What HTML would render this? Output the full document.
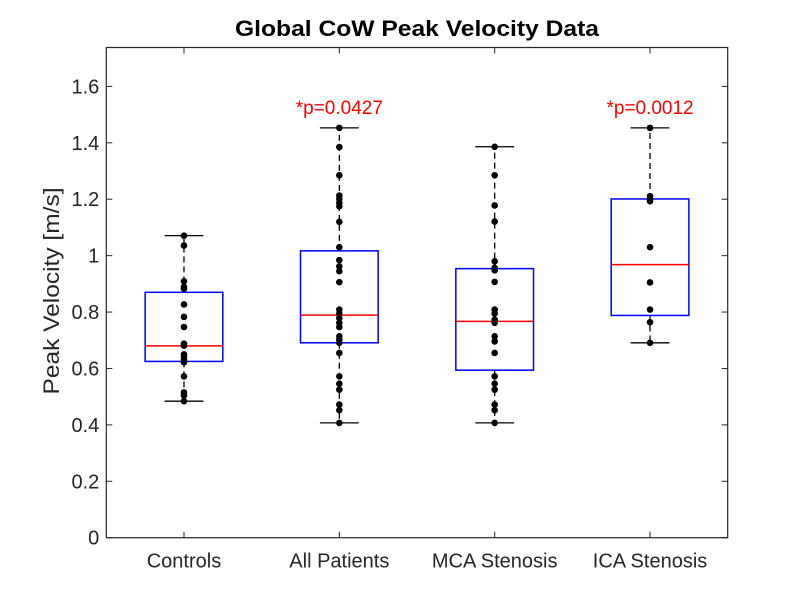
<!DOCTYPE html>
<html><head><meta charset="utf-8"><style>
html,body{margin:0;padding:0;background:#fff}
svg{display:block;font-family:"Liberation Sans",Arial,sans-serif}
</style></head><body>
<svg id="chart" width="802" height="604" viewBox="0 0 802 604">
<rect width="802" height="604" fill="#fff"/>
<text x="417" y="36" text-anchor="middle" font-size="22" font-weight="bold" fill="#000" textLength="364" lengthAdjust="spacingAndGlyphs">Global CoW Peak Velocity Data</text>
<g id="plot"></g>
</svg>
<script>
const categories = ["Controls","All Patients","MCA Stenosis","ICA Stenosis"];
const q1 = [0.625,0.691,0.594,0.788];
const q3 = [0.870,1.017,0.954,1.201];
const medians = [0.680,0.789,0.767,0.968];
const whiskerLow = [0.484,0.407,0.407,0.691];
const whiskerHigh = [1.071,1.453,1.386,1.453];
const pointsControls = [1.071,1.036,0.909,0.889,0.883,0.827,0.783,0.747,0.688,0.681,0.650,0.641,0.631,0.622,0.572,0.515,0.504,0.484];
const pointsAll = [1.453,1.385,1.285,1.213,1.201,1.187,1.175,1.120,1.030,0.984,0.962,0.945,0.906,0.809,0.795,0.779,0.762,0.747,0.714,0.702,0.691,0.655,0.572,0.546,0.525,0.472,0.452,0.407];
const pointsMCA = [1.386,1.285,1.178,1.121,0.980,0.957,0.948,0.907,0.809,0.795,0.773,0.762,0.714,0.696,0.655,0.572,0.546,0.525,0.472,0.452,0.407];
const pointsICA = [1.453,1.211,1.201,1.193,1.030,0.905,0.809,0.764,0.691];
const annotations = ["","*p=0.0427","","*p=0.0012"];
const yTicks = [0,0.2,0.4,0.6,0.8,1,1.2,1.4,1.6];
const yTickLabels = ["0","0.2","0.4","0.6","0.8","1","1.2","1.4","1.6"];

const L=106.3,R=727.7,T=47.5,B=537.7,YMAX=1.738;
const x = v => L + (v-0.5)*(R-L)/4;
const y = v => B - v*(B-T)/YMAX;
const NS="http://www.w3.org/2000/svg";
const g=document.getElementById('plot');
function mk(tag,attrs,parent){const e=document.createElementNS(NS,tag);for(const k in attrs)e.setAttribute(k,attrs[k]);(parent||g).appendChild(e);return e;}
const allPts=[pointsControls,pointsAll,pointsMCA,pointsICA];

categories.forEach((c,i)=>{
  const cx=x(i+1), hw=(R-L)/4*0.25, cw=(R-L)/4*0.125;
  const grp=mk('g',{});
  
  
  let e;
  e=mk('line',{x1:cx,x2:cx,y1:y(q3[i]),y2:y(whiskerHigh[i]),stroke:'#000','stroke-width':1.3,'stroke-dasharray':'6,4'},grp);
  
  
  e=mk('line',{x1:cx,x2:cx,y1:y(q1[i]),y2:y(whiskerLow[i]),stroke:'#000','stroke-width':1.3,'stroke-dasharray':'6,4'},grp);
  
  
  e=mk('line',{x1:cx-cw,x2:cx+cw,y1:y(whiskerHigh[i]),y2:y(whiskerHigh[i]),stroke:'#000','stroke-width':1.3},grp);
  
  
  e=mk('line',{x1:cx-cw,x2:cx+cw,y1:y(whiskerLow[i]),y2:y(whiskerLow[i]),stroke:'#000','stroke-width':1.3},grp);
  
  
  e=mk('rect',{x:cx-hw,y:y(q3[i]),width:2*hw,height:y(q1[i])-y(q3[i]),fill:'none',stroke:'#0000ff','stroke-width':1.5},grp);
  
  
  e=mk('line',{x1:cx-hw,x2:cx+hw,y1:y(medians[i]),y2:y(medians[i]),stroke:'#ff0000','stroke-width':1.5},grp);
  
  
  allPts[i].forEach(v=>{
    const d=mk('circle',{cx:cx,cy:y(v),r:3.3,fill:'#000'},grp);
    
    
  });
  if(annotations[i]){
    const t=mk('text',{x:cx,y:y(whiskerHigh[i])-14,'text-anchor':'middle','font-size':19,fill:'#ff0000'});
    t.textContent=annotations[i];
    
    
  }
  const tk=mk('line',{x1:cx,x2:cx,y1:B,y2:B-6,stroke:'#262626','stroke-width':1});
  
  
  const tk2=mk('line',{x1:cx,x2:cx,y1:T,y2:T+6,stroke:'#262626','stroke-width':1});
  
  
  const lb=mk('text',{x:cx,y:B+30,'text-anchor':'middle','font-size':20,fill:'#262626'});
  lb.textContent=c;
  
  
});
yTicks.forEach((v,i)=>{
  const t=mk('line',{x1:L,x2:L+6,y1:y(v),y2:y(v),stroke:'#262626','stroke-width':1});
  
  
  const t2=mk('line',{x1:R,x2:R-6,y1:y(v),y2:y(v),stroke:'#262626','stroke-width':1});
  
  
  const lb=mk('text',{x:L-7,y:y(v)+7,'text-anchor':'end','font-size':20,fill:'#262626'});
  lb.textContent=yTickLabels[i];
  
  
});
const frame=mk('rect',{x:L,y:T,width:R-L,height:B-T,fill:'none',stroke:'#262626','stroke-width':1.2});


const yl=mk('text',{x:0,y:0,'text-anchor':'middle','font-size':22,fill:'#262626',textLength:207,lengthAdjust:'spacingAndGlyphs',transform:'translate(59,291) rotate(-90)'});
yl.textContent='Peak Velocity [m/s]';


</script>
</body></html>
